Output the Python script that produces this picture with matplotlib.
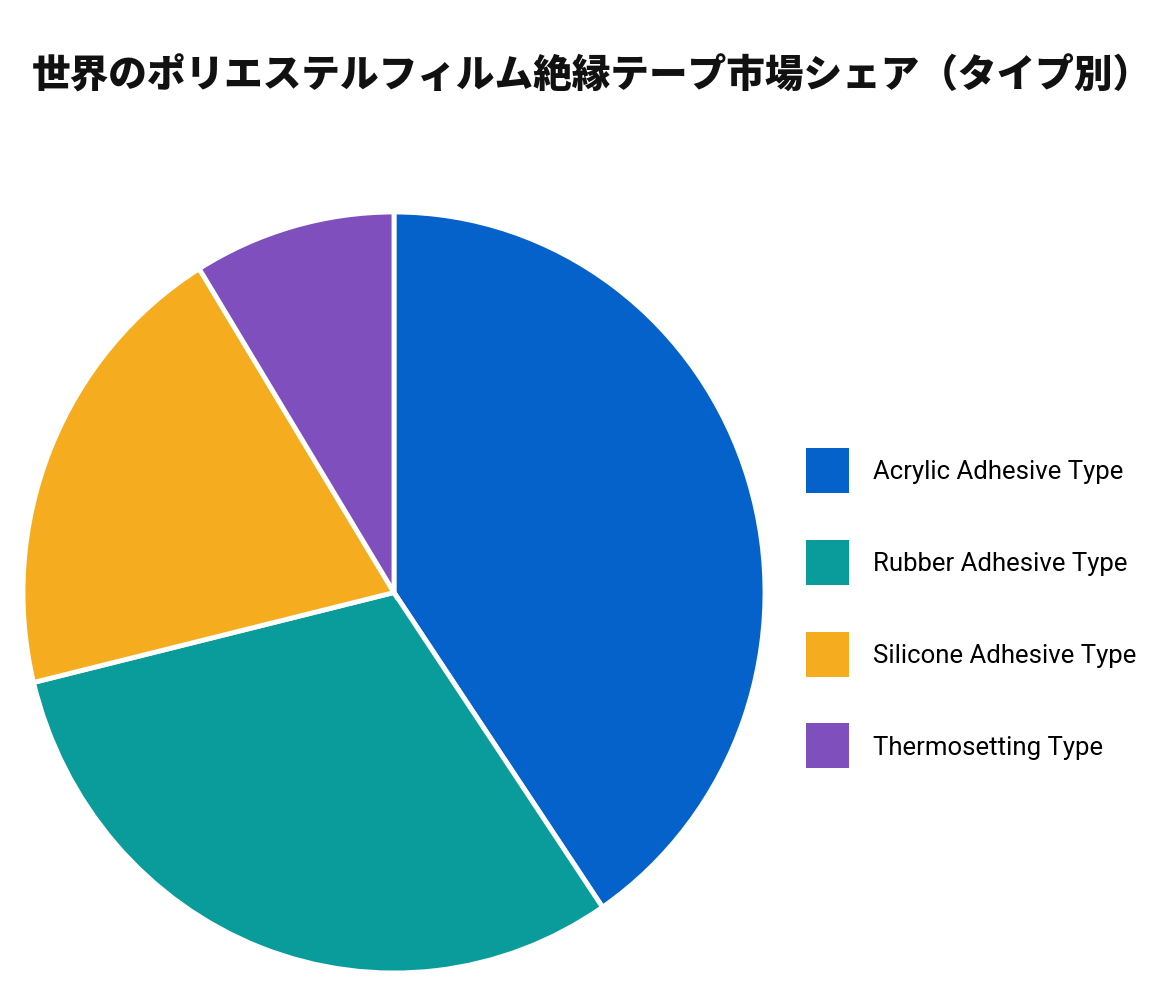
import matplotlib
matplotlib.use("Agg")
import matplotlib.pyplot as plt
from matplotlib.patches import Patch

# --- data ---
title = "世界のポリエステルフィルム絶縁テープ市場シェア（タイプ別）"
labels = ["Acrylic Adhesive Type", "Rubber Adhesive Type",
          "Silicone Adhesive Type", "Thermosetting Type"]
shares = [40.5, 30.7, 20.0, 8.8]
colors = ["#0562CB", "#0A9B9B", "#F5AD1F", "#7E4FBD"]

fig = plt.figure(figsize=(11.6, 10.04), dpi=100)
fig.patch.set_facecolor("white")

# pie axes placed to match the (slightly stretched) circle of the reference
ax = fig.add_axes([23 / 1160, 1 - 974 / 1004, 742 / 1160, 761 / 1004])
wedges, _ = ax.pie(shares, colors=colors, startangle=90, counterclock=False,
                   radius=1.0,
                   wedgeprops=dict(edgecolor="white", linewidth=3.5))
ax.set_xlim(-1, 1)
ax.set_ylim(-1, 1)
ax.set_aspect("auto")
ax.axis("off")

fig.text(0.5 + 12 / 1160, 1 - 76 / 1004, title, ha="center", va="center",
         fontsize=27.8, fontweight="black",
         family=["Noto Sans CJK JP", "DejaVu Sans"], color="#111111")

handles = [Patch(facecolor=c, edgecolor="none") for c in colors]
fig.legend(handles, labels, loc="upper left",
           bbox_to_anchor=(806 / 1160, 1 - 449 / 1004),
           frameon=False, borderpad=0, borderaxespad=0,
           prop=dict(family="Roboto", size=18.5),
           handlelength=1.67, handleheight=2.32,
           handletextpad=0.93, labelspacing=1.82)

fig.savefig("out.png", dpi=100, facecolor="white")
